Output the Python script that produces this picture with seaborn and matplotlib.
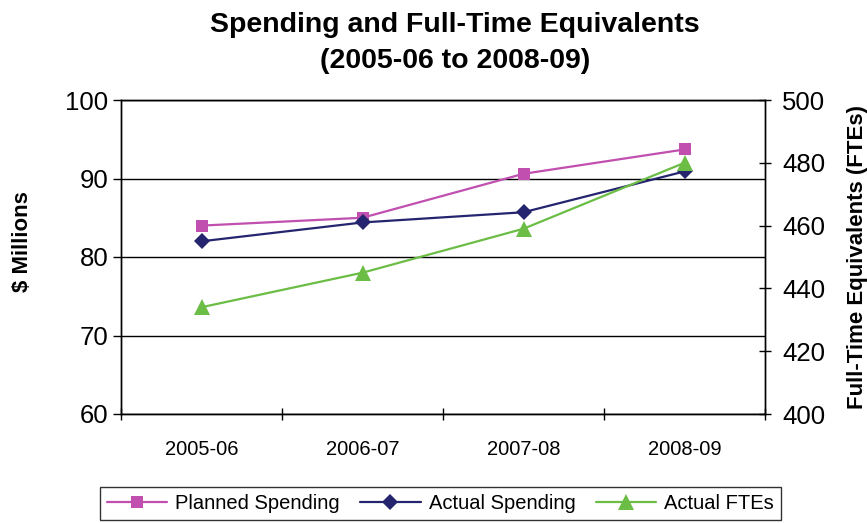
import seaborn as sns
import matplotlib
matplotlib.use("Agg")
import matplotlib.pyplot as plt
from matplotlib.ticker import FixedLocator, FixedFormatter, NullFormatter

# values
years = ['2005-06', '2006-07', '2007-08', '2008-09']
planned = [84.0, 85.0, 90.6, 93.7]
actual = [82.0, 84.4, 85.7, 90.9]
ftes = [434, 445, 459, 480]

left_ticks = [60, 70, 80, 90, 100]
right_ticks = [400, 420, 440, 460, 480, 500]

c_planned = '#C04FAF'
c_actual = '#25256F'
c_fte = '#6BBD45'

sns.set_style('white')
plt.rcParams['font.family'] = ['Liberation Sans', 'DejaVu Sans']
plt.rcParams['text.color'] = 'black'
plt.rcParams['axes.labelcolor'] = 'black'
plt.rcParams['xtick.color'] = 'black'
plt.rcParams['ytick.color'] = 'black'

fig = plt.figure(figsize=(8.67, 5.23), dpi=100)
ax = fig.add_axes([121 / 867, 1 - 414 / 523, (765 - 121) / 867, (414 - 100) / 523])
ax2 = ax.twinx()

sns.lineplot(x=years, y=planned, ax=ax, color=c_planned, marker='s', markersize=9,
             markeredgewidth=0, linewidth=1.6, label='Planned Spending', sort=False)
sns.lineplot(x=years, y=actual, ax=ax, color=c_actual, marker='D', markersize=8,
             markeredgewidth=0, linewidth=1.6, label='Actual Spending', sort=False)
sns.lineplot(x=years, y=ftes, ax=ax2, color=c_fte, marker='^', markersize=11,
             markeredgewidth=0, linewidth=1.6, label='Actual FTEs', sort=False)

handles, labels = ax.get_legend_handles_labels()
h2, l2 = ax2.get_legend_handles_labels()
handles += h2
labels += l2
ax.get_legend().remove()
ax2.get_legend().remove()

# x axis: tick marks between categories, labels centred
ax.set_xlim(-0.5, 3.5)
ax.xaxis.set_major_locator(FixedLocator([-0.5, 0.5, 1.5, 2.5, 3.5]))
ax.xaxis.set_major_formatter(NullFormatter())
ax.xaxis.set_minor_locator(FixedLocator([0, 1, 2, 3]))
ax.xaxis.set_minor_formatter(FixedFormatter(years))
ax.tick_params(axis='x', which='major', direction='inout', length=9, width=1, color='black', bottom=True)
ax.tick_params(axis='x', which='minor', length=0, pad=19, labelsize=14.5, bottom=True)
ax.set_xlabel('')

# left axis
ax.set_ylim(60, 100)
ax.set_yticks(left_ticks)
ax.tick_params(axis='y', direction='out', length=6, width=1, color='black', labelsize=18.5, pad=3, left=True)
ax.grid(axis='y', color='black', linewidth=1)
ax.grid(axis='x', visible=False)
ax.set_ylabel('$ Millions', fontsize=16, fontweight='bold')
ax.yaxis.set_label_coords(-0.137, 0.55)

# right axis
ax2.set_ylim(400, 500)
ax2.set_yticks(right_ticks)
ax2.tick_params(axis='y', direction='inout', length=9, width=1, color='black', labelsize=18.5, pad=8, right=True)
ax2.grid(False)
ax2.set_ylabel('Full-Time Equivalents (FTEs)', fontsize=16, fontweight='bold', rotation=90)
ax2.yaxis.set_label_coords(1.128, 0.5)

for a in (ax, ax2):
    for s in a.spines.values():
        s.set_color('black')
        s.set_linewidth(1)

fig.text(0.525, 0.918, 'Spending and Full-Time Equivalents\n(2005-06 to 2008-09)',
         ha='center', va='center', fontsize=20.5, fontweight='bold', linespacing=1.5)

leg = fig.legend(handles, labels, loc='upper center', bbox_to_anchor=(0.508, 1 - 487 / 523),
                 ncol=3, fontsize=14.5, frameon=True, fancybox=False, edgecolor='black',
                 handlelength=3, columnspacing=1.0, handletextpad=0.4, borderpad=0.35,
                 borderaxespad=0)
leg.get_frame().set_linewidth(1)

fig.savefig('out.png', dpi=100)
